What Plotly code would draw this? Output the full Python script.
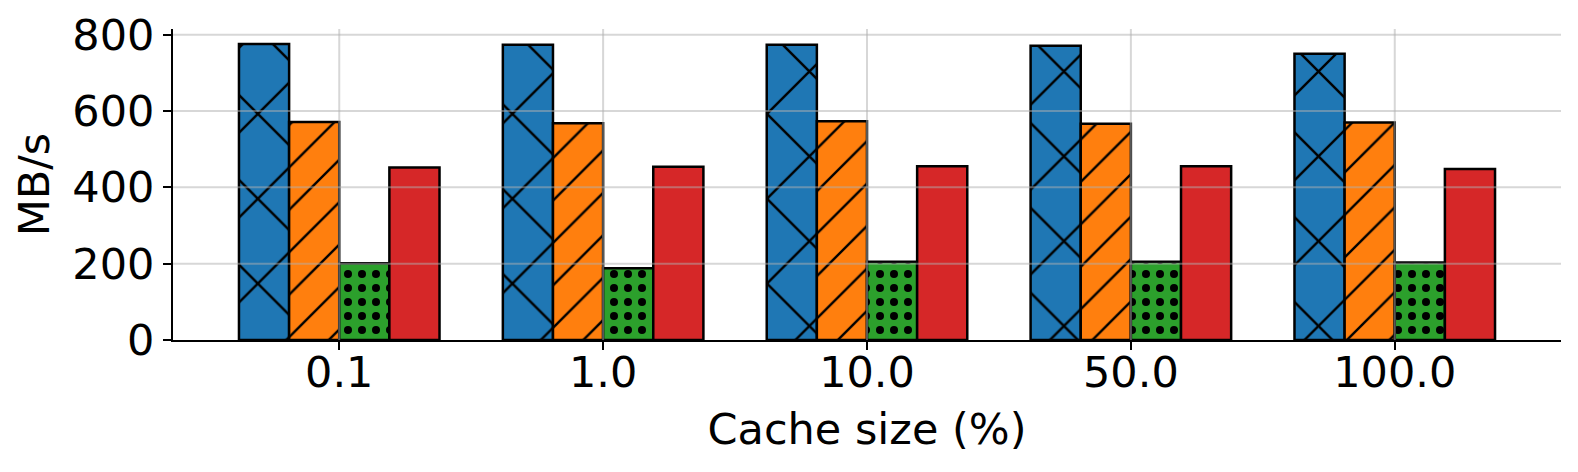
import plotly.graph_objects as go

# cache sizes (% of dataset) and throughput per configuration, MB/s
cache_sizes = ["0.1", "1.0", "10.0", "50.0", "100.0"]
blue_vals = [776, 774, 774, 771, 750]
orange_vals = [571, 568, 573, 567, 570]
green_vals = [201, 188, 205, 205, 203]
red_vals = [452, 454, 455, 455, 448]
y_ticks = [0, 200, 400, 600, 800]

FONT = "DejaVu Sans"
FONT_SIZE = 43
xpos = list(range(len(cache_sizes)))

series = [
    ("A", blue_vals, "#1f77b4", dict(shape="x", size=60, solidity=0.08)),
    ("B", orange_vals, "#ff7f0e", dict(shape="/", size=30, solidity=0.08)),
    ("C", green_vals, "#2ca02c", dict(shape=".", size=14, solidity=0.26)),
    ("D", red_vals, "#d62728", dict(shape="")),
]

fig = go.Figure()
for name, vals, color, pat in series:
    fig.add_trace(go.Bar(
        x=xpos,
        y=vals,
        name=name,
        marker=dict(
            color=color,
            line=dict(color="black", width=2.5),
            pattern=dict(fillmode="overlay", fgcolor="black", fgopacity=1, **pat),
        ),
    ))

# grid drawn over the bars, like the original
for t in y_ticks[1:]:
    fig.add_shape(type="line", xref="paper", yref="y", x0=0, x1=1, y0=t, y1=t,
                  line=dict(color="rgba(176,176,176,0.5)", width=2), layer="above")
for p in xpos:
    fig.add_shape(type="line", xref="x", yref="paper", x0=p, x1=p, y0=0, y1=1,
                  line=dict(color="rgba(176,176,176,0.5)", width=2), layer="above")

fig.update_layout(
    template="none",
    width=1578,
    height=472,
    margin=dict(l=173, r=17, t=29, b=132),
    paper_bgcolor="white",
    plot_bgcolor="white",
    barmode="group",
    bargap=0.24,
    bargroupgap=0,
    showlegend=False,
    font=dict(family=FONT, size=FONT_SIZE, color="black"),
)
axis_style = dict(
    showgrid=False,
    zeroline=False,
    showline=True,
    linecolor="black",
    linewidth=2,
    ticks="outside",
    ticklen=8,
    tickwidth=2,
    tickcolor="black",
    tickfont=dict(family=FONT, size=FONT_SIZE, color="black"),
    automargin=False,
)
fig.update_xaxes(
    range=[-0.63, 4.63],
    tickvals=xpos,
    ticktext=cache_sizes,
    ticklabelstandoff=-15,
    title=dict(text="Cache size (%)", standoff=18, font=dict(family=FONT, size=FONT_SIZE)),
    **axis_style,
)
fig.update_yaxes(
    range=[0, 815],
    tickvals=y_ticks,
    ticklabelstandoff=0,
    title=dict(text="MB/s", standoff=9, font=dict(family=FONT, size=FONT_SIZE)),
    **axis_style,
)

fig.write_html(
    "out.html",
    config={"displayModeBar": False},
    post_script="document.body.style.margin = '0';",
)
